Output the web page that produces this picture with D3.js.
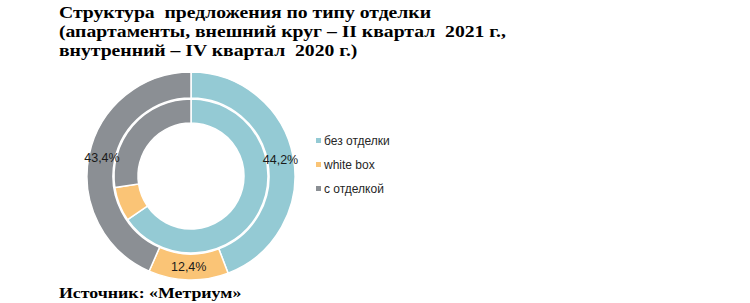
<!DOCTYPE html>
<html>
<head>
<meta charset="utf-8">
<script src="https://cdn.jsdelivr.net/npm/d3@7"></script>
<style>
body { margin: 0; background: #fff; }
svg text { white-space: pre; }
</style>
</head>
<body>
<svg width="750" height="303"></svg>
<script>
// Data

var categories = ['без отделки', 'white box', 'с отделкой'];
var outerValues = [44.2, 12.4, 43.4];   // II квартал 2021
var innerValues = [65.4, 7.2, 27.4];    // IV квартал 2020
var titleLines = [
  'Структура  предложения по типу отделки',
  '(апартаменты, внешний круг – II квартал  2021 г.,',
  'внутренний – IV квартал  2020 г.)'
];
var sourceText = 'Источник: «Метриум»';

var svg = d3.select('svg');

var color = d3.scaleOrdinal()
  .domain(categories)
  .range(['#94cad4', '#fac476', '#8b8f94']);

var fmt = function(v) { return d3.format('.1f')(v).replace('.', ',') + '%'; };

// Title (the original is a stretched bitmap, so widen the serif text a bit)

svg.append('g')
  .attr('transform', 'translate(59,0) scale(1.23,1)')
  .selectAll('text')
  .data(titleLines)
  .enter().append('text')
  .attr('x', 0)
  .attr('y', function(d, i) { return 18.5 + i * 19; })
  .attr('font-family', 'Liberation Serif, Times New Roman, serif')
  .attr('font-weight', 'bold')
  .attr('font-size', 16)
  .attr('fill', '#000')
  .text(function(d) { return d; });

// Donuts

var cx = 191, cy = 176;
var chart = svg.append('g').attr('transform', 'translate(' + cx + ',' + cy + ')');

var pie = d3.pie().sort(null).value(function(d) { return d.value; });

function ring(values, r0, r1, cls) {
  var data = pie(values.map(function(v, i) { return {key: categories[i], value: v}; }));
  var arc = d3.arc().innerRadius(r0).outerRadius(r1);
  var g = chart.append('g').attr('class', cls);
  g.selectAll('path')
    .data(data)
    .enter().append('path')
    .attr('d', arc)
    .attr('fill', function(d) { return color(d.data.key); })
    .attr('stroke', '#fff')
    .attr('stroke-width', 1.5);
  return {data: data, arc: arc};
}

ring(innerValues, 53, 77, 'inner');
var outer = ring(outerValues, 78, 104, 'outer');

// Outer labels

var labelArc = d3.arc().innerRadius(91).outerRadius(91);
chart.append('g')
  .selectAll('text')
  .data(outer.data)
  .enter().append('text')
  .attr('transform', function(d) { return 'translate(' + labelArc.centroid(d) + ')'; })
  .attr('text-anchor', 'middle')
  .attr('dy', '0.35em')
  .attr('font-family', 'Liberation Sans, Arial, sans-serif')
  .attr('font-size', 12.5)
  .attr('fill', '#1a1a1a')
  .text(function(d) { return fmt(d.data.value); });

// Legend

var legend = svg.append('g')
  .attr('transform', 'translate(316,141)')
  .selectAll('g')
  .data(categories)
  .enter().append('g')
  .attr('transform', function(d, i) { return 'translate(0,' + i * 24 + ')'; });

legend.append('rect')
  .attr('x', 0)
  .attr('y', -3)
  .attr('width', 5)
  .attr('height', 5)
  .attr('fill', color);

legend.append('text')
  .attr('x', 8)
  .attr('y', 0)
  .attr('dy', '0.35em')
  .attr('font-family', 'Liberation Sans, Arial, sans-serif')
  .attr('font-size', 12)
  .attr('fill', '#262626')
  .text(function(d) { return d; });

// Source

svg.append('text')
  .attr('transform', 'translate(59,297.5) scale(1.19,1)')
  .attr('font-family', 'Liberation Serif, Times New Roman, serif')
  .attr('font-weight', 'bold')
  .attr('font-size', 15)
  .attr('fill', '#000')
  .text(sourceText);
</script>
</body>
</html>
